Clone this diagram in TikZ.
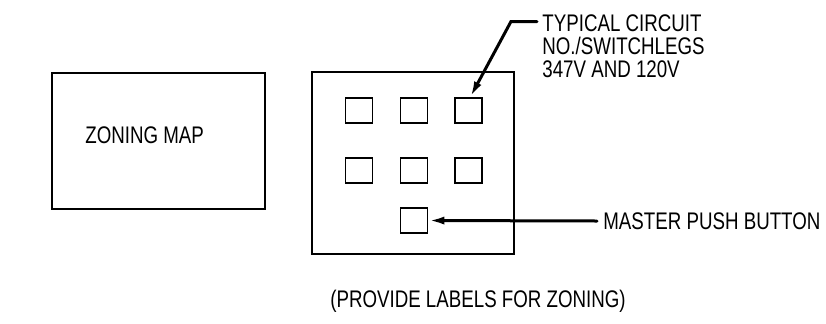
\documentclass[tikz,border=0pt]{standalone}
\usepackage{fontspec}
\setmainfont[FakeStretch=0.78]{Liberation Sans}
\usetikzlibrary{arrows.meta}

\tikzset{
  swbox/.style={draw,line width=0.8pt,minimum width=13.5pt,minimum height=12.5pt,inner sep=0pt},
  leader/.style={line width=1.5pt,-{Latex[length=8pt,width=4pt]}},
  cadtext/.style={font=\fontsize{12}{11.7}\selectfont,inner sep=0pt}
}

\begin{document}
\begin{tikzpicture}[x=0.5pt,y=-0.5pt,line cap=round]
\useasboundingbox (0,0) rectangle (826,323);
% zoning map
\draw[line width=0.8pt] (52,73) rectangle (265,209);
\node[cadtext,anchor=west] (zmap) at (85,135) {ZONING MAP};
% switch panel
\draw[line width=0.8pt] (312,72) rectangle (514,254);
\node[swbox] (b11) at (359,110.5) {};
\node[swbox] (b12) at (414,110.5) {};
\node[swbox] (b13) at (468.5,110.5) {};
\node[swbox] (b21) at (359,170.5) {};
\node[swbox] (b22) at (414,170.5) {};
\node[swbox] (b23) at (468.5,170.5) {};
\node[swbox] (mbtn) at (414,220.5) {};
% labels
\node[cadtext,anchor=north west,align=left] (typ) at (542,14)
  {TYPICAL CIRCUIT\\NO./SWITCHLEGS\\347V AND 120V};
\coordinate (typlead) at (537,21.5);
\draw[leader] (typlead) -- (511,21.5) -- ([xshift=8]b13.north west);
\node[cadtext,anchor=west] (mpb) at (603,221) {MASTER PUSH BUTTON};
\draw[leader] ([xshift=-3]mpb.west) -- (mbtn.east);
\node[cadtext] (note) at (478,301) {(PROVIDE LABELS FOR ZONING)};
\end{tikzpicture}
\end{document}
